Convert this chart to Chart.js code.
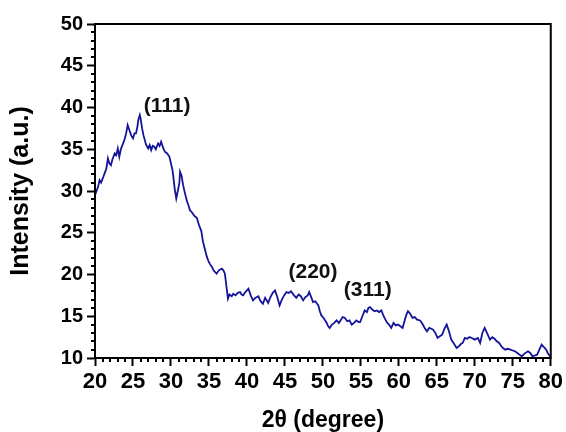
<!DOCTYPE html>
<html>
<head>
<meta charset="utf-8">
<script src="https://cdn.jsdelivr.net/npm/chart.js@4.4.1/dist/chart.umd.min.js"></script>
<style>
  html, body { margin: 0; padding: 0; background: #fff; }
  #wrap { width: 566px; height: 432px; }
</style>
</head>
<body>
<div id="wrap"><canvas id="xrd"></canvas></div>
<script>
// -------------------------------
//  DATA
// -------------------------------
const twoTheta = [
  20.0, 20.2, 20.4, 20.6, 20.8, 21.1, 21.3, 21.5, 21.7, 21.9, 22.1, 22.3, 22.6, 22.8, 23.0, 23.2, 23.4, 23.7, 23.9, 24.1,
  24.3, 24.6, 24.8, 25.0, 25.2, 25.4, 25.6, 25.7, 25.9, 26.0, 26.2, 26.4, 26.5, 26.7, 27.0, 27.2, 27.4, 27.6, 27.8, 28.0,
  28.3, 28.5, 28.7, 29.0, 29.2, 29.5, 29.8, 30.0, 30.2, 30.3, 30.5, 30.7, 30.9, 31.1, 31.2, 31.4, 31.6, 31.8, 32.1, 32.3,
  32.5, 32.8, 33.1, 33.4, 33.7, 34.0, 34.2, 34.5, 34.7, 34.9, 35.1, 35.4, 35.6, 36.0, 36.3, 36.7, 36.9, 37.1, 37.3, 37.5,
  37.7, 38.0, 38.2, 38.5, 38.8, 39.1, 39.3, 39.5, 39.8, 40.2, 40.5, 40.8, 41.1, 41.5, 41.8, 42.1, 42.4, 42.8, 43.1, 43.4,
  43.7, 44.0, 44.3, 44.6, 44.9, 45.2, 45.5, 45.8, 46.2, 46.5, 46.8, 47.1, 47.4, 47.7, 48.0, 48.2, 48.5, 48.7, 49.0, 49.4,
  49.6, 49.8, 50.1, 50.5, 50.7, 50.9, 51.2, 51.5, 51.8, 52.1, 52.4, 52.6, 52.9, 53.2, 53.5, 53.8, 54.1, 54.4, 54.7, 54.9,
  55.2, 55.5, 55.8, 56.0, 56.2, 56.5, 56.8, 57.1, 57.4, 57.7, 58.0, 58.4, 58.7, 59.0, 59.3, 59.6, 59.9, 60.2, 60.5, 60.8,
  61.0, 61.2, 61.5, 61.8, 62.1, 62.4, 62.8, 63.1, 63.4, 63.7, 64.0, 64.3, 64.5, 64.8, 65.1, 65.4, 65.7, 66.0, 66.3, 66.6,
  66.9, 67.2, 67.6, 67.9, 68.2, 68.4, 68.7, 69.0, 69.3, 69.6, 70.0, 70.4, 70.7, 71.0, 71.3, 71.6, 72.0, 72.3, 72.6, 72.9,
  73.2, 73.5, 73.7, 74.0, 74.3, 74.7, 75.0, 75.3, 75.6, 75.9, 76.2, 76.5, 77.0, 77.3, 77.6, 77.9, 78.2, 78.5, 78.8, 79.1,
  79.4, 79.6, 79.9, 80.0
];
const intensity = [
  29.5, 30.0, 30.5, 31.3, 31.0, 31.7, 32.2, 32.7, 33.9, 33.3, 33.1, 33.8, 34.5, 34.3, 35.1, 34.1, 35.0, 35.7, 36.2, 36.9,
  37.9, 37.1, 36.6, 36.3, 36.9, 36.9, 37.8, 38.5, 39.1, 38.7, 37.5, 36.6, 36.3, 35.6, 35.1, 35.5, 34.9, 35.4, 35.3, 35.0,
  35.7, 35.4, 35.9, 35.1, 34.7, 34.5, 34.1, 33.3, 32.5, 31.8, 30.2, 29.1, 30.0, 30.9, 32.3, 31.8, 30.7, 29.9, 28.8, 28.3,
  27.7, 27.4, 27.0, 26.8, 25.9, 25.2, 24.0, 22.9, 22.2, 21.7, 21.3, 20.9, 20.5, 20.1, 20.5, 20.7, 20.5, 20.1, 18.6, 17.1,
  17.6, 17.4, 17.7, 17.5, 17.8, 17.9, 17.6, 17.5, 17.9, 18.3, 17.5, 16.9, 17.2, 17.4, 16.8, 16.5, 17.2, 16.6, 17.3, 17.8,
  18.1, 17.3, 16.3, 17.0, 17.5, 17.9, 17.8, 18.0, 17.5, 17.2, 17.6, 17.4, 16.9, 17.3, 17.5, 17.9, 17.2, 16.7, 16.8, 16.3,
  15.6, 15.1, 14.8, 14.2, 13.8, 13.6, 14.0, 14.2, 14.5, 14.2, 14.6, 14.9, 14.8, 14.4, 14.5, 14.0, 14.2, 14.5, 14.3, 14.3,
  15.0, 15.7, 15.5, 16.0, 16.1, 15.8, 15.6, 15.7, 15.5, 15.7, 15.0, 14.3, 14.0, 13.6, 14.2, 13.9, 14.0, 13.8, 13.6, 14.6,
  15.2, 15.6, 15.3, 14.8, 14.9, 14.6, 14.5, 14.1, 13.6, 13.2, 13.6, 13.5, 13.4, 13.0, 12.4, 12.6, 12.8, 13.5, 14.0, 13.2,
  12.2, 11.8, 11.2, 11.4, 11.7, 11.8, 12.4, 12.3, 12.5, 12.4, 12.2, 12.4, 11.8, 13.0, 13.6, 13.0, 12.2, 12.5, 12.3, 12.0,
  11.8, 11.4, 11.2, 11.0, 11.1, 11.0, 10.9, 10.8, 10.6, 10.4, 10.2, 10.5, 10.8, 10.6, 10.2, 10.3, 10.4, 11.0, 11.6, 11.3,
  11.0, 10.6, 10.2, 10.0
];

// Peak annotations (Miller indices), placed in data coordinates
const peakLabels = ['(111)', '(220)', '(311)'];
const peakLabelX = [29.5, 48.7, 55.9];
const peakLabelY = [40.1, 20.3, 18.1];

// -------------------------------
//  STYLE
// -------------------------------
const FONT = "Arial, 'Liberation Sans', sans-serif";
const LINE_COLOR = '#14149a';

// minor ticks + frame + peak labels
const xrdDecor = {
  id: 'xrdDecor',
  afterDraw(chart) {
    const { ctx, chartArea: a, scales: { x, y } } = chart;
    ctx.save();
    ctx.strokeStyle = '#000';
    ctx.lineWidth = 2;

    // minor ticks every 1 unit
    ctx.beginPath();
    for (let v = x.min; v <= x.max; v++) {
      if (v % 5 === 0) continue;
      const px = Math.round(x.getPixelForValue(v));
      ctx.moveTo(px, a.bottom);
      ctx.lineTo(px, a.bottom + 4);
    }
    for (let v = y.min; v <= y.max; v++) {
      if (v % 5 === 0) continue;
      const py = Math.round(y.getPixelForValue(v));
      ctx.moveTo(a.left, py);
      ctx.lineTo(a.left - 4, py);
    }
    ctx.stroke();

    // box
    ctx.strokeRect(a.left, a.top, a.right - a.left, a.bottom - a.top);

    // peak labels
    ctx.fillStyle = '#111';
    ctx.font = 'bold 21px ' + FONT;
    ctx.textAlign = 'center';
    ctx.textBaseline = 'middle';
    peakLabels.forEach((txt, i) => {
      ctx.fillText(txt, x.getPixelForValue(peakLabelX[i]), y.getPixelForValue(peakLabelY[i]));
    });
    ctx.restore();
  }
};

new Chart(document.getElementById('xrd'), {
  type: 'line',
  data: {
    datasets: [{
      data: twoTheta.map((t, i) => ({ x: t, y: intensity[i] })),
      borderColor: LINE_COLOR,
      borderWidth: 1.8,
      pointRadius: 0,
      tension: 0,
      fill: false
    }]
  },
  options: {
    responsive: true,
    maintainAspectRatio: false,
    animation: false,
    layout: { padding: { top: 24, right: 15, left: 0, bottom: 0 } },
    plugins: { legend: { display: false }, tooltip: { enabled: false } },
    scales: {
      x: {
        type: 'linear',
        min: 20,
        max: 80,
        afterFit(s) { s.height = 74; },
        ticks: {
          stepSize: 5,
          color: '#000',
          padding: 3,
          maxRotation: 0,
          font: { family: FONT, size: 22, weight: 'bold' }
        },
        grid: { drawOnChartArea: false, tickLength: 8, tickWidth: 2, tickColor: '#000' },
        border: { display: true, color: '#000', width: 2 },
        title: {
          display: true,
          text: '2θ (degree)',
          color: '#000',
          padding: { top: 0, bottom: 0 },
          font: { family: FONT, size: 23, weight: 'bold', lineHeight: 1 }
        }
      },
      y: {
        min: 10,
        max: 50,
        afterFit(s) { s.width = 95; },
        ticks: {
          stepSize: 5,
          color: '#000',
          padding: 4,
          font: { family: FONT, size: 20, weight: 'bold' }
        },
        grid: { drawOnChartArea: false, tickLength: 8, tickWidth: 2, tickColor: '#000' },
        border: { display: true, color: '#000', width: 2 },
        title: {
          display: true,
          text: 'Intensity (a.u.)',
          color: '#000',
          padding: { top: 9, bottom: 0 },
          font: { family: FONT, size: 25, weight: 'bold', lineHeight: 1 }
        }
      }
    }
  },
  plugins: [xrdDecor]
});
</script>
</body>
</html>
